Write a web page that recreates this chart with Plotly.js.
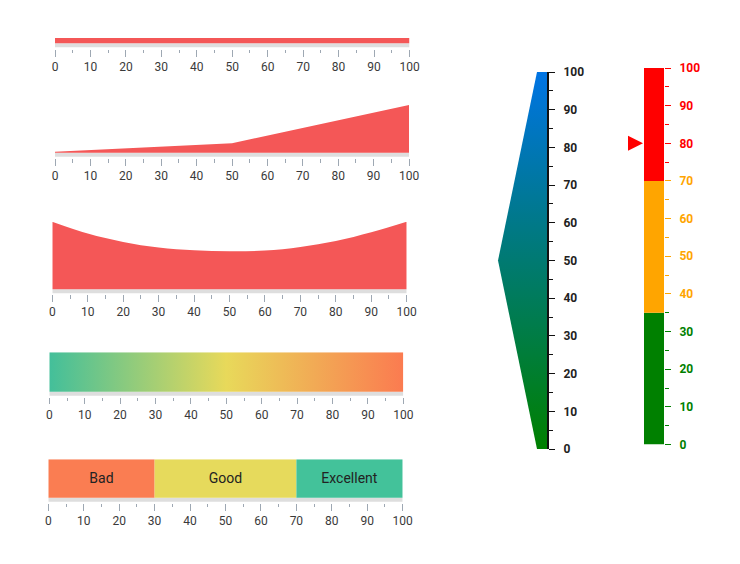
<!DOCTYPE html>
<html><head><meta charset="utf-8">
<script src="https://cdn.plot.ly/plotly-3.0.1.min.js"></script>
<style>html,body{margin:0;padding:0;background:#fff}</style>
</head><body><div id="chart" style="width:740px;height:564px"></div>
<script>
// ---------------- data ----------------
const scaleTicks = [0,10,20,30,40,50,60,70,80,90,100];
const scaleMin = 0, scaleMax = 100;

// gauge 1: bar pointer
const g1Value = 100;
// gauge 2: rising area (value -> thickness)
const g2X = [0, 50, 100];
const g2Y = [1, 9.5, 47.7];
// gauge 3: concave area
const g3X = [0, 10, 20, 30, 40, 50, 60, 70, 80, 90, 100];
const g3Y = [67.5, 55.7, 47.3, 41.7, 39, 38, 38.7, 42.3, 48.3, 57, 67.6];
// gauge 4: gradient range
const g4Stops = [0, 50, 100];
const g4Colors = ['#43BF9A', '#E8D95A', '#FB7B50'];
// gauge 5: labelled ranges
const g5Labels = ['Bad', 'Good', 'Excellent'];
const g5Start = [0, 30, 70];
const g5End = [30, 70, 100];
const g5Colors = ['#FA7D52', '#E6DA5C', '#43C29A'];
// gauge 6: vertical shaped range (value -> width)
const g6Values = [0, 50, 100];
const g6Width = [10, 49, 10];
const g6Colors = ['#008000', '#0074E4'];
// gauge 7: vertical colored ranges + pointer
const g7Start = [0, 35, 70];
const g7End = [35, 70, 100];
const g7Colors = ['#008000', '#FFA500', '#FF0000'];
const g7MajorTicks = [[0,10,20,30],[40,50,60,70],[80,90,100]];
const g7MinorTicks = [[5,15,25,35],[45,55,65],[75,85,95]];
const g7Pointer = 80;

// ---------------- layout helpers ----------------
const W = 740, H = 564;
const hx = p => p / W;
const vy = p => 1 - p / H;
const FONT = 'Roboto, "Noto Sans", sans-serif';
const tickGrey = '#9EA8B3';
const bandGrey = '#DEDEDE';

const HG = [
  {x0:55,   x1:409.5, top:38,    base:43.3,  tick:49},
  {x0:55,   x1:409,   top:105,   base:152.7, tick:158.3},
  {x0:52.3, x1:406.7, top:222,   base:289.3, tick:294.3},
  {x0:49.3, x1:403.3, top:352.3, base:391.7, tick:396.7},
  {x0:48.3, x1:402.7, top:459.3, base:497.7, tick:503},
];

const layout = {
  width: W, height: H,
  margin: {l:0, r:0, t:0, b:0},
  paper_bgcolor: '#fff', plot_bgcolor: 'rgba(0,0,0,0)',
  showlegend: false, hovermode: false, barmode: 'overlay',
  font: {family: FONT},
};
const data = [];

HG.forEach((g, i) => {
  const n = i + 1;
  const xs = n === 1 ? '' : String(n);
  layout['xaxis' + xs] = {
    domain: [hx(g.x0), hx(g.x1)], range: [scaleMin, scaleMax], anchor: 'y' + xs,
    showgrid: false, zeroline: false, showline: false,
    ticks: 'outside', tickmode: 'array', tickvals: scaleTicks,
    ticklen: 6.5, tickwidth: 1, tickcolor: tickGrey,
    minor: {dtick: 5, tick0: 0, ticks: 'outside', ticklen: 3.3, tickwidth: 1, tickcolor: tickGrey, showgrid: false},
    tickfont: {family: FONT, size: 12, color: '#3a3a3a'},
    fixedrange: true,
  };
  layout['yaxis' + xs] = {
    domain: [vy(g.tick), vy(g.top)], range: [-(g.tick - g.base), g.base - g.top],
    anchor: 'x' + xs, visible: false, fixedrange: true,
  };
  // grey track
  data.push({type:'bar', orientation:'h', x:[scaleMax - scaleMin], base:[scaleMin], y:[-2], width:[4],
    marker:{color: bandGrey, line:{width:0}}, xaxis:'x'+xs, yaxis:'y'+xs, hoverinfo:'skip'});
});

// gauge 1
data.push({type:'bar', orientation:'h', x:[g1Value - scaleMin], base:[scaleMin], y:[2.65], width:[5.3],
  marker:{color:'#F45757', line:{width:0}}, xaxis:'x', yaxis:'y'});
// gauge 2
data.push({type:'scatter', mode:'lines', x:g2X, y:g2Y, fill:'tozeroy', fillcolor:'#F45757',
  line:{width:0, color:'#F45757'}, xaxis:'x2', yaxis:'y2'});
// gauge 3
data.push({type:'scatter', mode:'lines', x:g3X, y:g3Y, fill:'tozeroy', fillcolor:'#F45757',
  line:{width:0, color:'#F45757', shape:'spline', smoothing:1}, xaxis:'x3', yaxis:'y3'});
// gauge 4
const g4H = HG[3].base - HG[3].top;
data.push({type:'scatter', mode:'lines',
  x:[g4Stops[0], g4Stops[g4Stops.length-1], g4Stops[g4Stops.length-1], g4Stops[0], g4Stops[0]],
  y:[0, 0, g4H, g4H, 0], fill:'toself',
  fillgradient:{type:'horizontal', colorscale: g4Stops.map((s,i)=>[(s-g4Stops[0])/(g4Stops[g4Stops.length-1]-g4Stops[0]), g4Colors[i]])},
  line:{width:0}, xaxis:'x4', yaxis:'y4'});
// gauge 5
const g5H = HG[4].base - HG[4].top;
data.push({type:'bar', orientation:'h', x:g5End.map((e,i)=>e-g5Start[i]), base:g5Start,
  y:g5Labels.map(()=>g5H/2), width:g5Labels.map(()=>g5H),
  marker:{color:g5Colors, line:{width:0}}, text:g5Labels, textposition:'inside',
  insidetextanchor:'middle', constraintext:'none',
  textfont:{family:FONT, size:14, color:'#222'}, xaxis:'x5', yaxis:'y5'});

// gauge 6 (vertical)
layout.xaxis6 = {domain:[hx(490), hx(547)], range:[-57, 0], anchor:'y6', visible:false, fixedrange:true};
layout.yaxis6 = {
  domain:[vy(449), vy(72)], range:[scaleMin, scaleMax], anchor:'x6', side:'right',
  showgrid:false, zeroline:false, showline:true, linecolor:'#111', linewidth:2,
  ticks:'outside', tickmode:'array', tickvals:scaleTicks, ticklen:6, tickwidth:1, tickcolor:'#111',
  minor:{dtick:5, tick0:0, ticks:'outside', ticklen:3.5, tickwidth:1, tickcolor:'#111'},
  tickfont:{family:FONT, size:12, color:'#222', weight:700}, ticklabelstandoff:6, fixedrange:true,
};
const g6X = g6Width.map(w => -w).concat([0, 0]);
const g6Y = g6Values.slice().concat([g6Values[g6Values.length-1], g6Values[0]]);
data.push({type:'scatter', mode:'lines', x:g6X, y:g6Y, fill:'toself',
  fillgradient:{type:'vertical', colorscale:[[0, g6Colors[0]], [1, g6Colors[1]]]},
  line:{width:0}, xaxis:'x6', yaxis:'y6'});

// gauge 7 (vertical, colored)
layout.xaxis7 = {domain:[hx(620), hx(664)], range:[-44, 0], anchor:'y7', visible:false, fixedrange:true};
const g7Axes = ['y7', 'y8', 'y9'];
g7Axes.forEach((ya, i) => {
  const key = 'yaxis' + ya.slice(1);
  const ax = {
    range:[scaleMin, scaleMax], anchor:'x7', side:'right',
    showgrid:false, zeroline:false, showline:false,
    ticks:'outside', tickmode:'array', tickvals:g7MajorTicks[i], ticklen:6, tickwidth:1, tickcolor:g7Colors[i],
    minor:{tickmode:'array', tickvals:g7MinorTicks[i], ticks:'outside', ticklen:3.5, tickwidth:1, tickcolor:g7Colors[i]},
    tickfont:{family:FONT, size:12, color:g7Colors[i], weight:700}, ticklabelstandoff:6, fixedrange:true,
  };
  if (i === 0) ax.domain = [vy(444.5), vy(68)]; else ax.overlaying = 'y7';
  layout[key] = ax;
  data.push({type:'bar', x:[-10], y:[g7End[i]-g7Start[i]], base:[g7Start[i]], width:[20],
    marker:{color:g7Colors[i], line:{width:0}}, xaxis:'x7', yaxis:ya});
});
// pointer triangle (tip at the value)
data.push({type:'scatter', mode:'lines', x:[-36, -21, -36, -36], y:[g7Pointer+2, g7Pointer, g7Pointer-2, g7Pointer+2],
  fill:'toself', fillcolor:'#FF0000', line:{width:0}, xaxis:'x7', yaxis:'y9'});

Plotly.newPlot('chart', data, layout, {staticPlot:true, displayModeBar:false});
</script>
</body></html>
